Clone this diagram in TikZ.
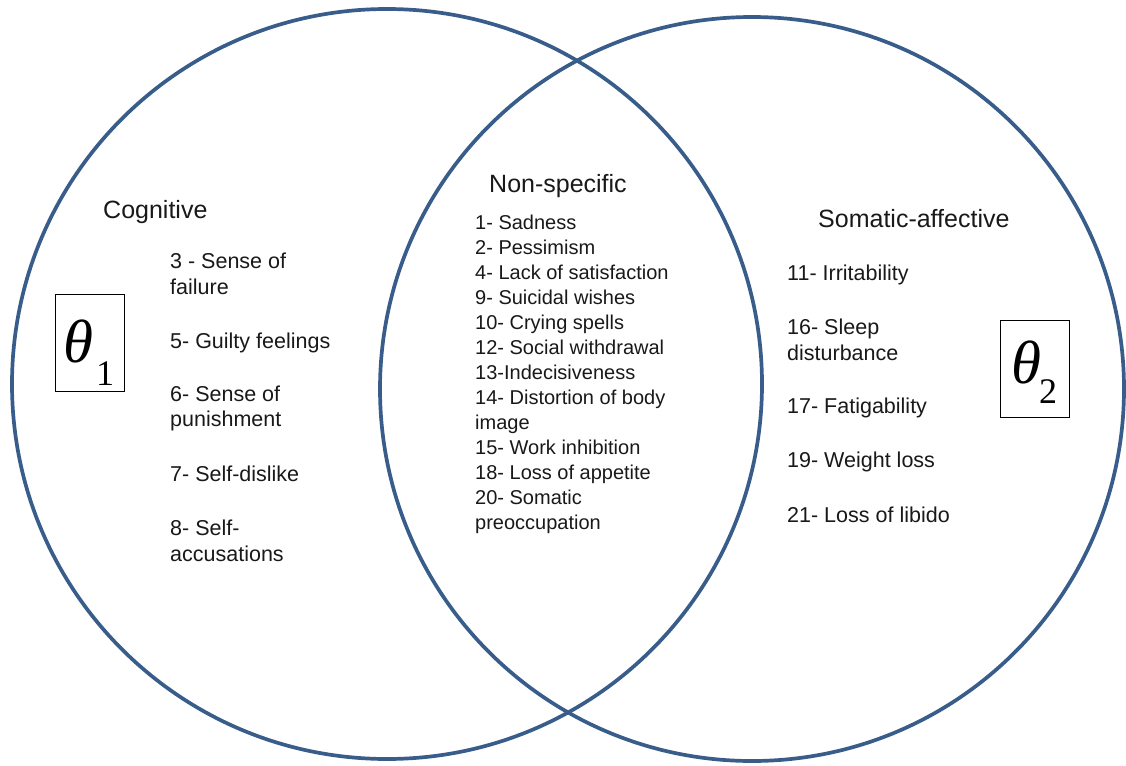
\documentclass[tikz,border=0pt]{standalone}
\usepackage{fontspec}
\setmainfont{Liberation Sans}
\newfontfamily\thetafont{Liberation Serif}
\definecolor{vennblue}{RGB}{56,93,138}
\definecolor{txt}{RGB}{25,25,25}
\begin{document}
\begin{tikzpicture}[x=1pt,y=-1pt,
  ring/.style={draw=vennblue,line width=3.7pt},
  head/.style={anchor=base west,inner sep=0pt,font=\fontsize{25}{30}\selectfont,text=txt},
  side/.style={anchor=base west,inner sep=0pt,font=\fontsize{21.5}{26}\selectfont,text=txt},
  mid/.style={anchor=base west,inner sep=0pt,font=\fontsize{20}{25}\selectfont,text=txt},
  thbox/.style={draw=black,line width=1.3pt,minimum width=69pt,minimum height=97pt,inner sep=0pt,anchor=north west},
  thsym/.style={anchor=base,inner sep=0pt,font=\thetafont\itshape\fontsize{61}{61}\selectfont},
  thsub/.style={anchor=base,inner sep=0pt,font=\thetafont\fontsize{36}{36}\selectfont}]
\useasboundingbox (0,0) rectangle (1126,765);
\fill[white] (0,0) rectangle (1126,765);

% circles
\draw[ring] (387,384) circle[radius=375pt];
\draw[ring] (752,389) circle[radius=372pt];

% headings
\node[head] (hcog) at (103,218) {Cognitive};
\node[head] (hnon) at (489,192) {Non-specific};
\node[head] (hsom) at (818,227) {Somatic-affective};

% cognitive items
\node[side] (c3a) at (170,268) {3 - Sense of};
\node[side] (c3b) at (170,294) {failure};
\node[side] (c5)  at (170,348) {5- Guilty feelings};
\node[side] (c6a) at (170,401) {6- Sense of};
\node[side] (c6b) at (170,426) {punishment};
\node[side] (c7)  at (170,481) {7- Self-dislike};
\node[side] (c8a) at (170,535) {8- Self-};
\node[side] (c8b) at (170,561) {accusations};

% non-specific items
\node[mid] (n1)  at (475,229) {1- Sadness};
\node[mid] (n2)  at (475,254) {2- Pessimism};
\node[mid] (n4)  at (475,279) {4- Lack of satisfaction};
\node[mid] (n9)  at (475,304) {9- Suicidal wishes};
\node[mid] (n10) at (475,329) {10- Crying spells};
\node[mid] (n12) at (475,354) {12- Social withdrawal};
\node[mid] (n13) at (475,379) {13-Indecisiveness};
\node[mid] (n14a) at (475,404) {14- Distortion of body};
\node[mid] (n14b) at (475,429) {image};
\node[mid] (n15) at (475,454) {15- Work inhibition};
\node[mid] (n18) at (475,479) {18- Loss of appetite};
\node[mid] (n20a) at (475,504) {20- Somatic};
\node[mid] (n20b) at (475,529) {preoccupation};

% somatic-affective items
\node[side] (s11)  at (787,280) {11- Irritability};
\node[side] (s16a) at (787,334) {16- Sleep};
\node[side] (s16b) at (787,360) {disturbance};
\node[side] (s17)  at (787,413) {17- Fatigability};
\node[side] (s19)  at (787,467) {19- Weight loss};
\node[side] (s21)  at (787,522) {21- Loss of libido};

% theta boxes
\node[thbox] (b1) at (54.6,293.6) {};
\node[thsym] (t1) at (78,362) {θ};
\node[thsub] (t1s) at (105,385) {1};
\node[thbox] (b2) at (999.6,319.6) {};
\node[thsym] (t2) at (1026,383) {θ};
\node[thsub] (t2s) at (1048,403) {2};
\end{tikzpicture}
\end{document}
